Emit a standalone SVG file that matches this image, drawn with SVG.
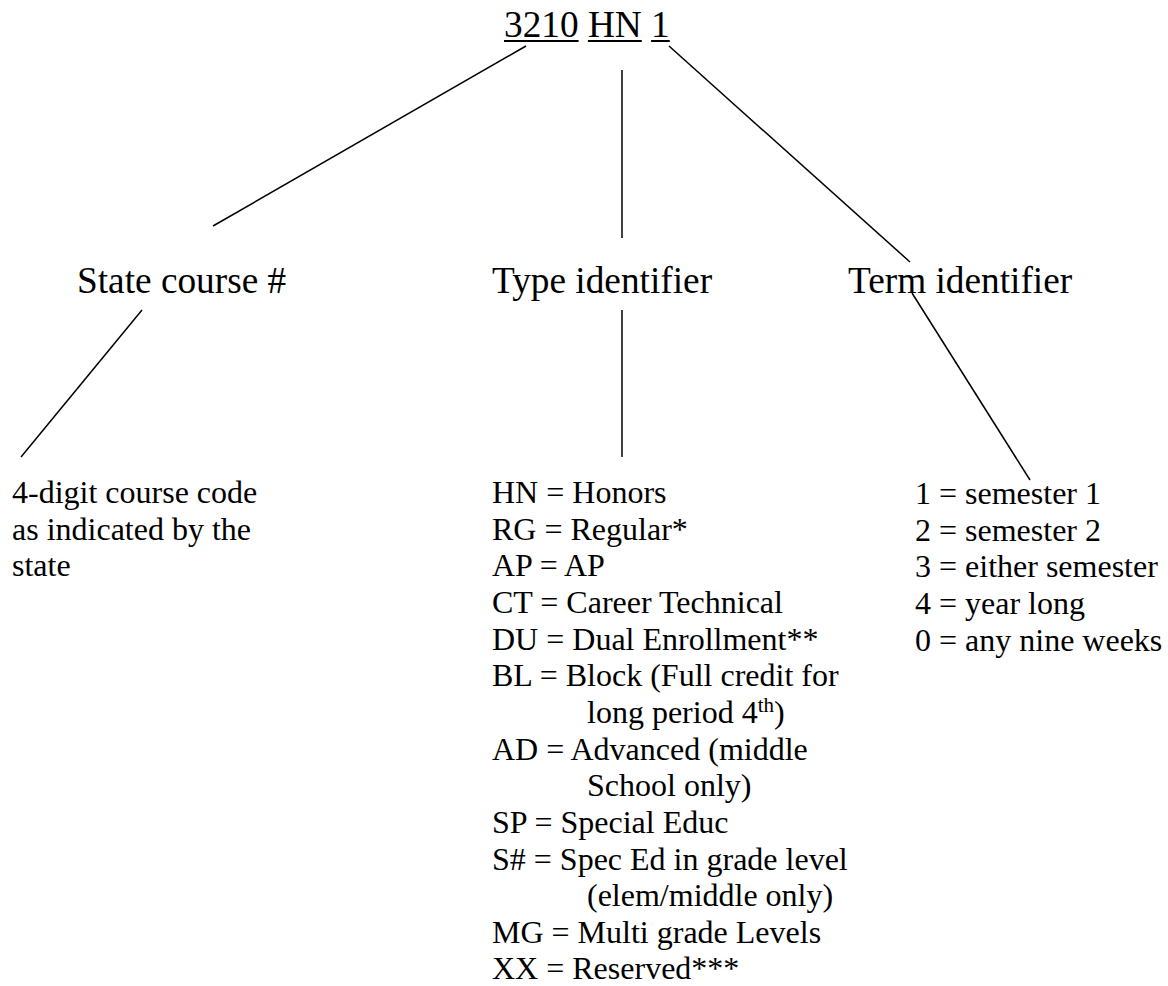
<svg xmlns="http://www.w3.org/2000/svg" width="1168" height="986" viewBox="0 0 1168 986">
<style>
text{font-family:"Liberation Serif","Times New Roman",serif;fill:#000}
.big{font-size:37.3px}
.sm{font-size:32px}
.sup{font-size:21px}
.ul{stroke:#000;stroke-width:2}
.conn{stroke:#000;stroke-width:1.5;fill:none}
</style>
<rect width="1168" height="986" fill="#fff"/>
<g id="title">
<text class="big" x="504" y="37">3210 HN 1</text>
<line class="ul" x1="504" y1="41" x2="578.6" y2="41"/>
<line class="ul" x1="587.9" y1="41" x2="641.8" y2="41"/>
<line class="ul" x1="651.1" y1="41" x2="669.8" y2="41"/>
</g>
<g id="state-course">
<text class="big" x="77" y="293">State course #</text>
</g>
<g id="type-identifier">
<text class="big" x="492" y="293">Type identifier</text>
</g>
<g id="term-identifier">
<text class="big" x="848" y="293">Term identifier</text>
</g>
<g id="state-desc">
<text class="sm" x="12" y="503">4-digit course code</text>
<text class="sm" x="12" y="539.7">as indicated by the</text>
<text class="sm" x="12" y="576.3">state</text>
</g>
<g id="type-list">
<text class="sm" x="492" y="503">HN = Honors</text>
<text class="sm" x="492" y="539.65">RG = Regular*</text>
<text class="sm" x="492" y="576.3">AP = AP</text>
<text class="sm" x="492" y="612.95">CT = Career Technical</text>
<text class="sm" x="492" y="649.6">DU = Dual Enrollment**</text>
<text class="sm" x="492" y="686.25">BL = Block (Full credit for</text>
<text class="sm" x="587" y="722.9">long period 4<tspan class="sup" dy="-11">th</tspan><tspan dy="11">)</tspan></text>
<text class="sm" x="492" y="759.55">AD = Advanced (middle</text>
<text class="sm" x="587" y="796.2">School only)</text>
<text class="sm" x="492" y="832.85">SP = Special Educ</text>
<text class="sm" x="492" y="869.5">S# = Spec Ed in grade level</text>
<text class="sm" x="587" y="906.15">(elem/middle only)</text>
<text class="sm" x="492" y="942.8">MG = Multi grade Levels</text>
<text class="sm" x="492" y="979.45">XX = Reserved***</text>
</g>
<g id="term-list">
<text class="sm" x="915" y="504">1 = semester 1</text>
<text class="sm" x="915" y="540.65">2 = semester 2</text>
<text class="sm" x="915" y="577.3">3 = either semester</text>
<text class="sm" x="915" y="613.95">4 = year long</text>
<text class="sm" x="915" y="650.6">0 = any nine weeks</text>
</g>
<g id="connectors">
<line class="conn" x1="526" y1="46" x2="213" y2="226"/>
<line class="conn" x1="622" y1="70" x2="622" y2="238"/>
<line class="conn" x1="669" y1="46" x2="910" y2="262"/>
<line class="conn" x1="142" y1="310" x2="21" y2="457"/>
<line class="conn" x1="622" y1="310" x2="622" y2="457"/>
<line class="conn" x1="912" y1="293" x2="1030" y2="480"/>
</g>
</svg>
